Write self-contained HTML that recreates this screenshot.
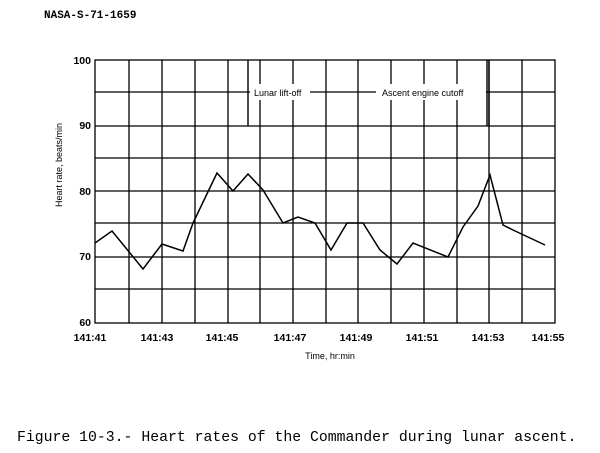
<!DOCTYPE html>
<html><head><meta charset="utf-8"><style>
html,body{margin:0;padding:0;background:#fff;width:600px;height:453px;overflow:hidden}
svg{display:block}
</style></head><body>
<svg width="600" height="453" viewBox="0 0 600 453" xmlns="http://www.w3.org/2000/svg">
<text x="44" y="18" font-family="Liberation Mono, monospace" font-weight="bold" font-size="11" fill="#000">NASA-S-71-1659</text>
<g stroke="#000" stroke-width="1.3" fill="none">
<rect x="95" y="60" width="460" height="263"/>
<path d="M129 60V323M162 60V323M195 60V323M228 60V323M260 60V323M293 60V323M326 60V323M358 60V323M391 60V323M424 60V323M457 60V323M489 60V323M522 60V323"/>
<path d="M95 126H555M95 158H555M95 191H555M95 223H555M95 257H555M95 289H555M95 92H555"/>
</g>
<rect x="250" y="84" width="60" height="16" fill="#fff"/>
<rect x="376" y="84" width="110" height="16" fill="#fff"/>
<g stroke="#000" stroke-width="1.4">
<path d="M248 60V126M487 60V126M489 60V126"/>
</g>
<g font-family="Liberation Sans, sans-serif" font-size="9" fill="#000">
<text x="254" y="96">Lunar lift-off</text>
<text x="382" y="96">Ascent engine cutoff</text>
</g>
<polyline fill="none" stroke="#000" stroke-width="1.5" points="95,243 112,231 143,269 162,244 183,251 193,223 205,198 217,173 233,191 248,174 263,190 283,223 298,217 315,223 331,250 347,223 363,223 380,250 397,264 413,243 448,257 463,227 478,206 490,175 503,225 513,230 545,245"/>
<g font-family="Liberation Sans, sans-serif" font-weight="bold" font-size="10.5" fill="#000" text-anchor="end">
<text x="91" y="64">100</text>
<text x="91" y="129">90</text>
<text x="91" y="195">80</text>
<text x="91" y="260">70</text>
<text x="91" y="326">60</text>
</g>
<g font-family="Liberation Sans, sans-serif" font-weight="bold" font-size="10.5" fill="#000" text-anchor="middle">
<text x="90" y="341">141:41</text>
<text x="157" y="341">141:43</text>
<text x="222" y="341">141:45</text>
<text x="290" y="341">141:47</text>
<text x="356" y="341">141:49</text>
<text x="422" y="341">141:51</text>
<text x="488" y="341">141:53</text>
<text x="548" y="341">141:55</text>
</g>
<text x="330" y="359" font-family="Liberation Sans, sans-serif" font-size="9" text-anchor="middle" fill="#000">Time, hr:min</text>
<text transform="translate(62,165) rotate(-90)" font-family="Liberation Sans, sans-serif" font-size="9" text-anchor="middle" fill="#000">Heart rate, beats/min</text>
<text x="17" y="441" font-family="Liberation Mono, monospace" font-size="14.8" fill="#000">Figure 10-3.- Heart rates of the Commander during lunar ascent.</text>
</svg>
</body></html>
